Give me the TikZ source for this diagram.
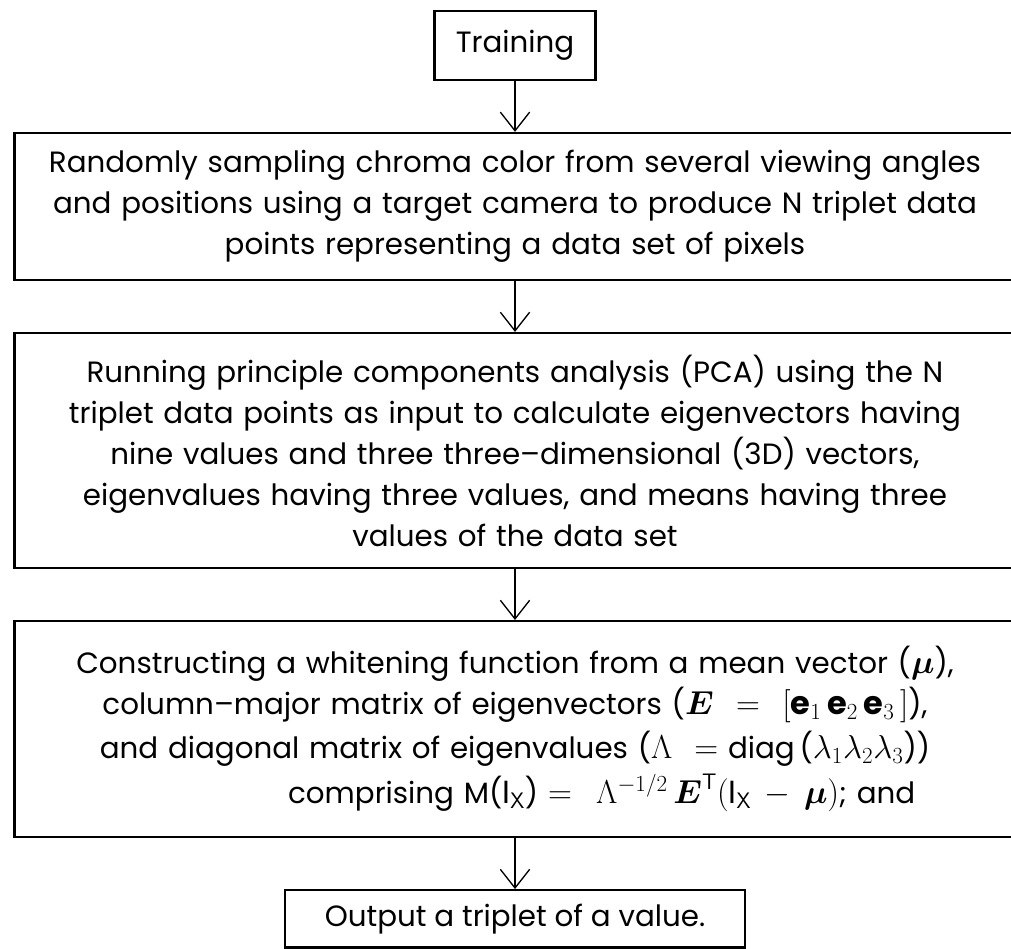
\documentclass[tikz,border=0pt]{standalone}
\usepackage{amsmath}
\usepackage{fontspec}
\setmainfont{Poppins}
\usetikzlibrary{arrows.meta,positioning}
\newcommand{\mth}[1]{{\fontsize{24}{30.75}\selectfont$#1$}}

\begin{document}
\begin{tikzpicture}[x=0.75pt,y=-0.75pt,
    stepbox/.style={draw,line width=1.8pt,align=center,inner sep=0pt,
      font=\fontsize{22}{30.75}\selectfont},
    widebox/.style={stepbox,minimum width=750.75pt,text width=745pt},
    arr/.style={-{Straight Barb[length=14pt,width=22pt]},line width=1pt}
  ]
    \useasboundingbox (0,0) rectangle (1011,949);
    \node[stepbox,minimum width=120.75pt,minimum height=51.75pt] (train) at (515,45.5) {Training};
    \node[widebox,minimum height=110.25pt,below=38pt of train] (rand)
      {Randomly sampling chroma color from several viewing angles\\
       and positions using a target camera to produce N triplet data\\
       points representing a data set of pixels};
    \node[widebox,minimum height=176.25pt,below=38pt of rand] (pca)
      {Running principle components analysis (PCA) using the N\\
       triplet data points as input to calculate eigenvectors having\\
       nine values and three three--dimensional (3D) vectors,\\
       eigenvalues having three values, and means having three\\
       values of the data set};
    \node[widebox,minimum height=162pt,below=38pt of pca] (whiten)
      {Constructing a whitening function from a mean vector (\mth{\boldsymbol{\mu}}),\\
       column--major matrix of eigenvectors (\mth{\boldsymbol{E} = [\mathbf{e}_1\,\mathbf{e}_2\,\mathbf{e}_3\,]}),\\[2pt]
       and diagonal matrix of eigenvalues (\mth{\Lambda =} diag\,(\mth{\lambda_1\lambda_2\lambda_3}))\\[3pt]
       \hspace*{130pt}comprising M(\mth{\mathrm{I}_{\mathsf{X}}}) \mth{= \Lambda^{-1/2}\,\boldsymbol{E}^{\mathsf{T}}(\mathrm{I}_{\mathsf{X}} - \boldsymbol{\mu})}; and};
    \node[stepbox,minimum width=345pt,minimum height=43pt,below=38pt of whiten] (out)
      {Output a triplet of a value.};
    \foreach \a/\b in {train/rand,rand/pca,pca/whiten,whiten/out}\draw[arr](\a)--(\b);
  \end{tikzpicture}
\end{document}
